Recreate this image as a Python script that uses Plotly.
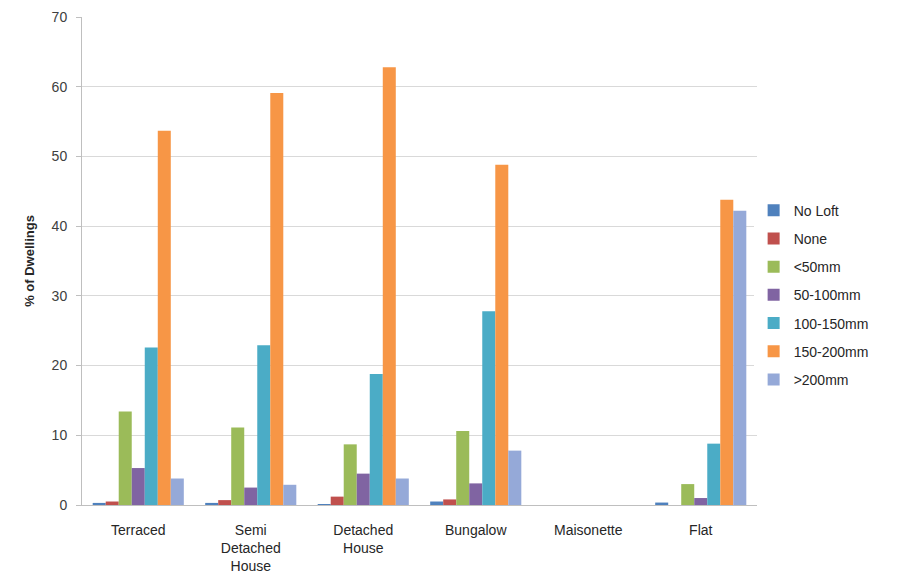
import plotly.graph_objects as go

categories = ["Terraced", "Semi<br>Detached<br>House", "Detached<br>House", "Bungalow", "Maisonette", "Flat"]

no_loft = [0.3, 0.3, 0.1, 0.5, 0, 0.35]
none = [0.5, 0.7, 1.2, 0.8, 0, 0]
lt_50 = [13.4, 11.1, 8.7, 10.6, 0, 3.0]
mm_50_100 = [5.3, 2.5, 4.5, 3.1, 0, 1.0]
mm_100_150 = [22.6, 22.9, 18.8, 27.8, 0, 8.8]
mm_150_200 = [53.7, 59.1, 62.8, 48.8, 0, 43.8]
gt_200 = [3.8, 2.9, 3.8, 7.8, 0, 42.2]

series = [
    ("No Loft", no_loft, "#4F81BD"),
    ("None", none, "#C0504D"),
    ("<50mm", lt_50, "#9BBB59"),
    ("50-100mm", mm_50_100, "#8064A2"),
    ("100-150mm", mm_100_150, "#4BACC6"),
    ("150-200mm", mm_150_200, "#F79646"),
    (">200mm", gt_200, "#95A9D8"),
]

fig = go.Figure()
for name, vals, color in series:
    fig.add_trace(go.Bar(x=categories, y=vals, name=name, marker_color=color,
                         marker_line_width=0, legendgroup=name))

# page body adds an 8px margin, so the figure is a little smaller than the window
fig.update_layout(
    barmode="group",
    bargap=0.19,
    bargroupgap=0,
    width=905, height=579,
    margin=dict(l=74, r=156, t=9, b=82),
    plot_bgcolor="white",
    paper_bgcolor="white",
    font=dict(family="Liberation Sans, Arial, sans-serif", size=14, color="#262626"),
    legend=dict(x=0.995, xanchor="left", y=0.43, yanchor="middle",
                tracegroupgap=7, font=dict(size=14)),
)
fig.update_yaxes(range=[0, 70], dtick=10, showgrid=True, gridcolor="#d9d9d9",
                 showline=True, linecolor="#bfbfbf", ticks="outside", ticklen=5,
                 tickcolor="#bfbfbf", zeroline=False, ticklabelstandoff=6,
                 tickfont=dict(color="#404040"), automargin=False,
                 title=dict(text="<b>% of Dwellings</b>", font=dict(size=13), standoff=14))
fig.update_xaxes(showline=True, linecolor="#bfbfbf", ticks="", tickfont=dict(size=14),
                 ticklabelstandoff=12, automargin=False)

fig.write_html("out.html")
